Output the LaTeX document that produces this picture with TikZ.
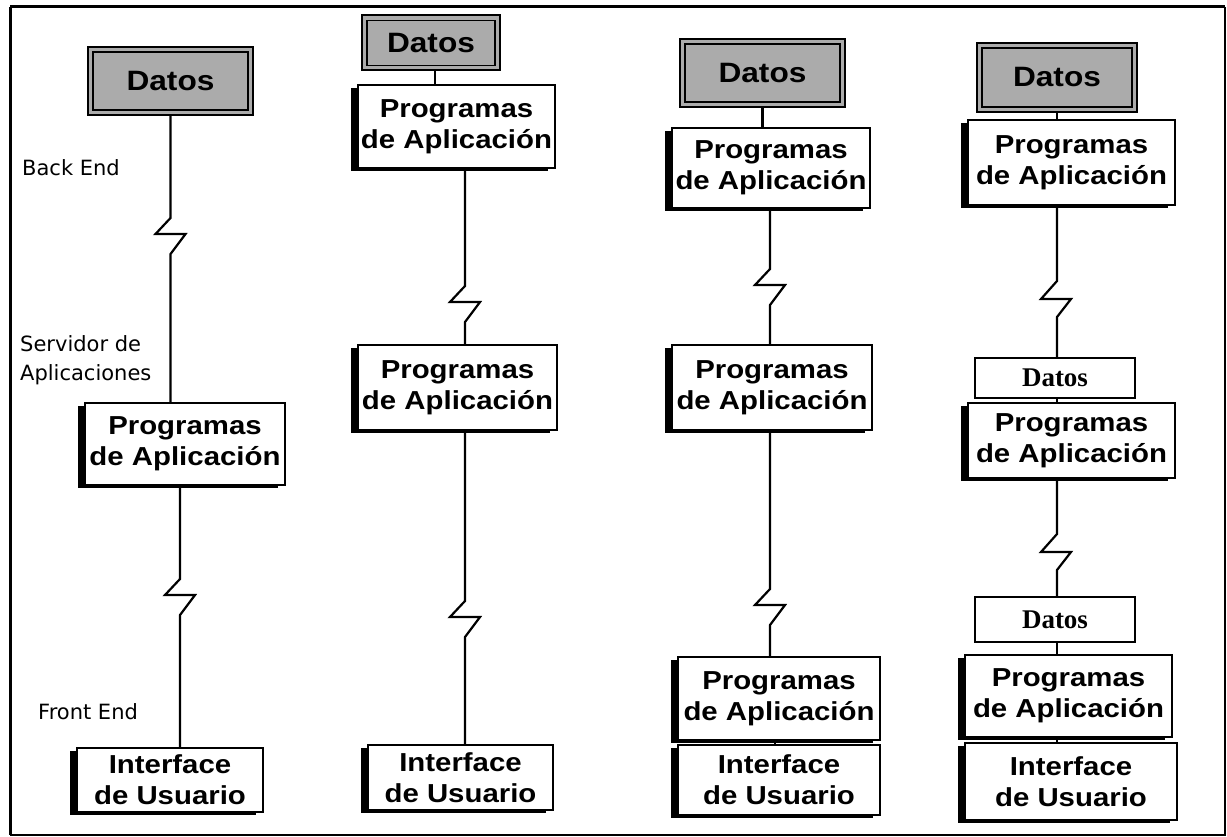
\documentclass[tikz,border=0pt]{standalone}
\usepackage{fontspec}
\setmainfont{Liberation Sans}
\newfontfamily\boxfont[FakeStretch=1.13]{Liberation Sans}
\newfontfamily\labfont{DejaVu Sans}
\newfontfamily\serfont{Liberation Serif}
\usetikzlibrary{shadows}

\tikzset{
  wire/.style={line width=2.2pt, line join=miter},
  tier/.style={draw, line width=2pt, fill=white, inner sep=0pt, align=center,
    font=\boxfont\bfseries\fontsize{26}{31}\selectfont,
    drop shadow={shadow xshift=-7pt, shadow yshift=-3pt, fill=black, opacity=1}},
  store/.style={draw, line width=2pt, fill=black!33, inner sep=0pt,
    font=\boxfont\bfseries\fontsize{28}{30}\selectfont,
    path picture={\draw[line width=1.2pt]
      ([shift={(5pt,5pt)}]path picture bounding box.south west) rectangle
      ([shift={(-5pt,-5pt)}]path picture bounding box.north east);}},
  cache/.style={draw, line width=1.8pt, fill=white, inner sep=0pt,
    font=\serfont\bfseries\fontsize{27}{30}\selectfont},
  lab/.style={anchor=west, inner sep=0pt, align=left,
    font=\labfont\fontsize{21}{29}\selectfont},
  sz/.style 2 args={minimum width=#1pt, minimum height=#2pt}
}

\begin{document}
\begin{tikzpicture}[x=1pt, y=-1pt]
\useasboundingbox (0,0) rectangle (1227,837);
\fill[white] (0,0) rectangle (1227,837);

% outer frame
\draw[line width=3pt] (10,7) -- (1225,7);
\draw[line width=3pt] (10,7) -- (10,835);
\draw[line width=1.5pt] (1225,7) -- (1225,835) -- (10,835);

% side labels
\node[lab] (back) at (22,168) {Back End};
\node[lab] (serv) at (20,360) {Servidor de\\Aplicaciones};
\node[lab] (front) at (38,712) {Front End};

% column 1: data server, application server, client
\node[store, sz={165}{68}] (D1) at (170.5,81) {Datos};
\node[tier, sz={200}{82}] (P1a) at (185,444) {Programas\\de Aplicación};
\node[tier, sz={186}{64}] (I1) at (170,780) {Interface\\de Usuario};

\draw[wire] (D1.south) -- ++(0,102) -- ++(-15,16) -- ++(30,0) -- ++(-15,20)
  -- (P1a.north -| D1.south);
\draw[wire] (P1a.south -| 180,0) -- ++(0,93) -- ++(-15,16) -- ++(30,0) -- ++(-15,20)
  -- (I1.north -| 180,0);

% column 2
\node[store, sz={138}{55}] (D2) at (431,43) {Datos};
\node[tier, sz={197}{83}] (P2a) at (456.5,126.5) {Programas\\de Aplicación};
\node[tier, sz={199}{85}] (P2b) at (457.5,387.5) {Programas\\de Aplicación};
\node[tier, sz={185}{65}] (I2) at (460.5,777.5) {Interface\\de Usuario};

\draw[wire] (D2.south -| 435,0) -- (P2a.north -| 435,0);
\draw[wire] (P2a.south -| 465,0) -- ++(0,117) -- ++(-15,16) -- ++(30,0) -- ++(-15,20)
  -- (P2b.north -| 465,0);
\draw[wire] (P2b.south -| 465,0) -- ++(0,170) -- ++(-15,16) -- ++(30,0) -- ++(-15,20)
  -- (I2.north -| 465,0);

% column 3
\node[store, sz={165}{68}] (D3) at (762.5,73) {Datos};
\node[tier, sz={198}{80}] (P3a) at (771,168) {Programas\\de Aplicación};
\node[tier, sz={200}{85}] (P3b) at (772,387.5) {Programas\\de Aplicación};
\node[tier, sz={202}{83}] (P3c) at (779,698.5) {Programas\\de Aplicación};
\node[tier, sz={202}{70}] (I3) at (779,780) {Interface\\de Usuario};

\draw[wire] (D3.south) -- (P3a.north -| D3.south);
\draw[wire] (P3a.south -| 770,0) -- ++(0,60) -- ++(-15,16) -- ++(30,0) -- ++(-15,20)
  -- (P3b.north -| 770,0);
\draw[wire] (P3b.south -| 770,0) -- ++(0,158) -- ++(-15,16) -- ++(30,0) -- ++(-15,20)
  -- (P3c.north -| 770,0);
\draw[wire] (P3c.south -| 775,0) -- (I3.north -| 775,0);

% column 4
\node[store, sz={160}{69}] (D4) at (1057,77.5) {Datos};
\node[tier, sz={207}{85}] (P4a) at (1071.5,162.5) {Programas\\de Aplicación};
\node[cache, sz={160}{40}] (D4b) at (1055,378) {Datos};
\node[tier, sz={207}{75}] (P4b) at (1071.5,440.5) {Programas\\de Aplicación};
\node[cache, sz={160}{45}] (D4c) at (1055,619.5) {Datos};
\node[tier, sz={207}{82}] (P4c) at (1068.5,696) {Programas\\de Aplicación};
\node[tier, sz={212}{77}] (I4) at (1071,781.5) {Interface\\de Usuario};

\draw[wire] (D4.south) -- (P4a.north -| D4.south);
\draw[wire] (P4a.south -| 1057,0) -- ++(0,75) -- ++(-16,18) -- ++(30,0) -- ++(-14,18)
  -- (D4b.north -| 1057,0);
\draw[wire] (D4b.south -| 1057,0) -- (P4b.north -| 1057,0);
\draw[wire] (P4b.south -| 1057,0) -- ++(0,55) -- ++(-16,18) -- ++(30,0) -- ++(-14,18)
  -- (D4c.north -| 1057,0);
\draw[wire] (D4c.south -| 1057,0) -- (P4c.north -| 1057,0);
\draw[wire] (P4c.south -| 1057,0) -- (I4.north -| 1057,0);
\end{tikzpicture}
\end{document}
